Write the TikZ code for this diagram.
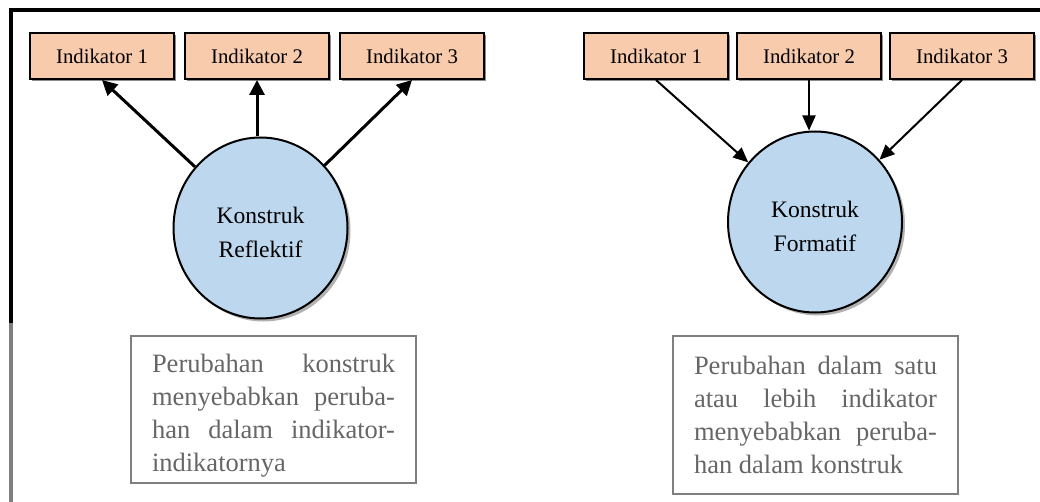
\documentclass[tikz,border=0pt]{standalone}
\usepackage{fontspec}
\setmainfont{Liberation Serif}
\usetikzlibrary{arrows.meta,shapes.geometric,shadows}
\definecolor{peach}{HTML}{F8CBAD}
\definecolor{skyfill}{HTML}{BDD7EE}
\definecolor{notegray}{HTML}{666666}
\definecolor{noteframe}{HTML}{7F7F7F}
\begin{document}
\begin{tikzpicture}[x=1pt,y=-1pt,
  indbox/.style={draw=black, line width=2pt, fill=peach,
    minimum width=144pt, minimum height=46pt, inner sep=0pt,
    font=\fontsize{20.8}{24}\selectfont,
    drop shadow={shadow xshift=2pt, shadow yshift=-2pt, fill=black!45, opacity=1}},
  construct/.style={ellipse, draw=black, line width=2pt, fill=skyfill,
    minimum width=174pt, minimum height=181pt, inner sep=0pt, align=center,
    font=\fontsize{23.6}{34}\selectfont, text height=60pt, text depth=0pt,
    drop shadow={shadow xshift=3pt, shadow yshift=-3pt, fill=black!30, opacity=1}},
  note/.style={draw=noteframe, line width=1.5pt, text=notegray,
    text width=243pt, align=justify, inner xsep=21pt, inner ysep=5pt,
    font=\fontsize{26.5}{33}\selectfont, anchor=north},
  refl/.style={-{Triangle[length=15pt,width=15pt]}, line width=3pt},
  form/.style={-{Triangle[length=15pt,width=13pt]}, line width=2pt}]

\useasboundingbox (0,0) rectangle (1040,502);

% page frame
\draw[line width=4pt, line join=miter] (1040,10) -- (10.5,10) -- (10.5,323);
\draw[line width=4pt, noteframe] (10.5,323) -- (10.5,502);

% reflective model
\node[indbox] (r1) at (102,56) {Indikator 1};
\node[indbox] (r2) at (257,56) {Indikator 2};
\node[indbox] (r3) at (412,56) {Indikator 3};
\node[construct] (rc) at (260.5,228) {Konstruk\\Reflektif};
\draw[refl] (rc) -- (r1.south);
\draw[refl] (r2.south |- rc.north) -- (r2.south);
\draw[refl] (rc) -- (r3.south);
\node[note, minimum height=147pt, text height=31pt] (rn) at (273.5,335)
  {Perubahan konstruk\linebreak menyebabkan peruba-\linebreak han dalam indikator-\linebreak indikatornya};

% formative model
\node[indbox] (f1) at (656,56) {Indikator 1};
\node[indbox] (f2) at (809,56) {Indikator 2};
\node[indbox] (f3) at (962,56) {Indikator 3};
\node[construct] (fc) at (815,222) {Konstruk\\Formatif};
\draw[form] (f1.south) -- (fc);
\draw[form] (f2.south) -- (f2.south |- fc.north);
\draw[form] (f3.south) -- (fc);
\node[note, minimum height=158pt] (fn) at (815.5,335)
  {Perubahan dalam satu\linebreak atau lebih indikator\linebreak menyebabkan peruba-\linebreak han dalam konstruk};

\end{tikzpicture}
\end{document}
